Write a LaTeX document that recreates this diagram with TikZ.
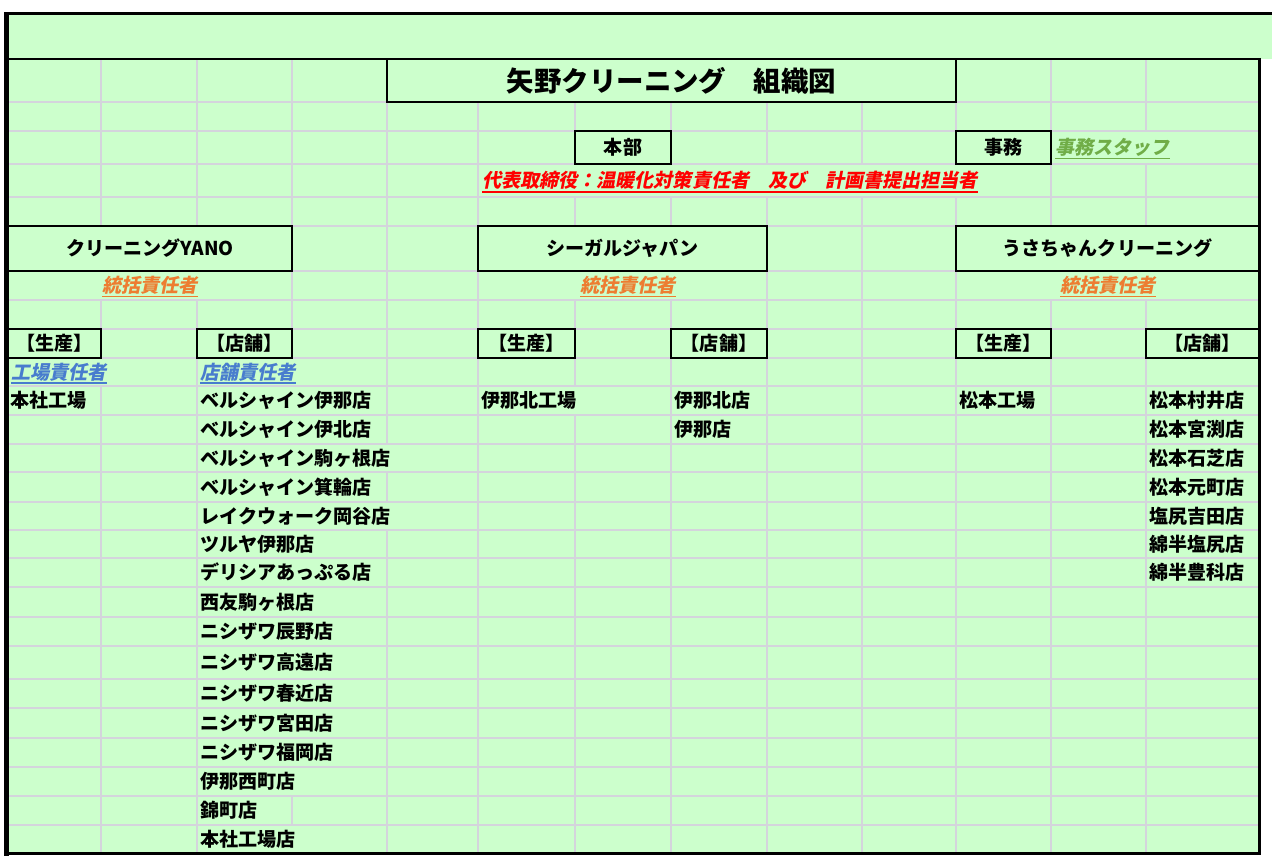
\documentclass[tikz,border=0pt]{standalone}
\usepackage{fontspec}
\setmainfont{Noto Sans CJK JP}
\newfontfamily\slantfont[FakeSlant=0.2]{Noto Sans CJK JP}

\definecolor{cellbg}{RGB}{204,255,204}
\definecolor{gridgray}{RGB}{212,212,220}
\definecolor{chieforange}{RGB}{237,125,49}
\definecolor{leadblue}{RGB}{72,124,206}
\definecolor{staffgreen}{RGB}{112,173,71}

\begin{document}
\begin{tikzpicture}[x=0.75pt, y=-0.75pt,
    gridline/.style={gridgray, line width=0.8pt},
    blankcell/.style={fill=cellbg},
    framebox/.style={draw=black, line width=1.3pt, fill=cellbg},
    celltext/.style={anchor=west, inner xsep=0pt, font=\bfseries\fontsize{14.3}{16}\selectfont},
    boxtext/.style={font=\bfseries\fontsize{14.3}{16}\selectfont},
    notetext/.style={inner xsep=0pt, font=\slantfont\bfseries\fontsize{14.3}{16}\selectfont},
    ulinestyle/.style={line width=1.1pt}]
\useasboundingbox (0,0) rectangle (1272,856);

% Sheet background
\fill[cellbg] (8,13) rectangle (1272,59);
\fill[cellbg] (8,59) rectangle (1259,853);

% Cell grid (vertical lines first, overflowing text hides some of them)
\foreach \x in {101,197,292,387,478,575,671,767,862,956,1051,1146}
    \draw[gridline] (\x,59) -- (\x,853);
\foreach \x/\ya/\yb in {1146/131/164, 575/164/197, 671/164/197, 767/164/197,
    862/164/197, 956/164/197, 101/271/300, 197/271/300, 575/271/300,
    671/271/300, 1051/271/300, 1146/271/300, 101/358/386, 292/358/796,
    292/825/853, 575/386/415, 387/444/472, 387/502/530}
    \fill[blankcell] (\x-1.5,\ya) rectangle (\x+1.5,\yb);
\foreach \y in {102,131,164,197,226,271,300,329,358,386,415,444,472,502,530,
    558,587,617,646,679,708,738,767,796,825}
    \draw[gridline] (8,\y) -- (1259,\y);

% Boxes
\draw[framebox, line width=1.6pt] (387,59) rectangle (956,102);
\draw[framebox] (575,131) rectangle (671,164);
\draw[framebox] (956,131) rectangle (1051,164);
\foreach \xa/\xb in {8/292, 478/767, 956/1259}
    \draw[framebox, line width=1.6pt] (\xa,226) rectangle (\xb,271);
\foreach \xa/\xb in {8/101, 197/292, 478/575, 671/767, 956/1051, 1146/1259}
    \draw[framebox] (\xa,329) rectangle (\xb,358);

% Outer frame
\draw[line width=1.1pt] (8,59) -- (1259,59);
\draw[line width=2.3pt] (4,13.5) -- (1272,13.5);
\draw[line width=3.8pt] (6.5,13) -- (6.5,856);
\draw[line width=2.3pt] (1259.5,58) -- (1259.5,855);
\draw[line width=2.3pt] (8,853.5) -- (1261,853.5);

% Headings
\node[boxtext, font=\bfseries\fontsize{20.6}{24}\selectfont] (title) at (671.5,80.5) {矢野クリーニング　組織図};
\node[boxtext] (hq) at (623,147.5) {本部};
\node[boxtext] (office) at (1003.5,147.5) {事務};
\node[notetext, anchor=west, text=staffgreen] (staff) at (1055,147.5) {事務スタッフ};
\node[notetext, anchor=west, text=red] (rep) at (482,180.5) {代表取締役：温暖化対策責任者　及び　計画書提出担当者};

% Companies
\foreach \n/\x/\cx/\s in {yano/150/150/クリーニングYANO, gull/622.5/628/シーガルジャパン,
    usa/1107.5/1108/うさちゃんクリーニング} {
    \node[boxtext] (\n) at (\x,248.5) {\s};
    \node[notetext, text=chieforange] (\n chief) at (\cx,285.5) {統括責任者};
}
\foreach \n/\x in {yanomake/54.5, gullmake/526.5, usamake/1003.5}
    \node[boxtext] (\n) at (\x,343.5) {【生産】};
\foreach \n/\x in {yanoshop/244.5, gullshop/719, usashop/1202.5}
    \node[boxtext] (\n) at (\x,343.5) {【店舗】};
\node[notetext, anchor=west, text=leadblue] (factorylead) at (11,372) {工場責任者};
\node[notetext, anchor=west, text=leadblue] (shoplead) at (200,372) {店舗責任者};

% Underlines of the italic notes
\foreach \n/\c in {staff/staffgreen, rep/red, yanochief/chieforange, gullchief/chieforange,
    usachief/chieforange, factorylead/leadblue, shoplead/leadblue}
    \draw[ulinestyle, \c] ([yshift=-3pt]\n.base west) -- ([yshift=-3pt]\n.base east);

% Factories and shops
\node[celltext] (yanofactory) at (10,400.5) {本社工場};
\node[celltext] (gullfactory) at (481,400.5) {伊那北工場};
\node[celltext] (usafactory) at (959,400.5) {松本工場};
\node[celltext] (gullshop1) at (674,400.5) {伊那北店};
\node[celltext] (gullshop2) at (674,429.5) {伊那店};
\foreach \y/\s [count=\i] in {400.5/ベルシャイン伊那店, 429.5/ベルシャイン伊北店,
    458/ベルシャイン駒ヶ根店, 487/ベルシャイン箕輪店, 516/レイクウォーク岡谷店,
    544/ツルヤ伊那店, 572.5/デリシアあっぷる店, 602/西友駒ヶ根店, 631.5/ニシザワ辰野店,
    662.5/ニシザワ高遠店, 693.5/ニシザワ春近店, 723/ニシザワ宮田店, 752.5/ニシザワ福岡店,
    781.5/伊那西町店, 810.5/錦町店, 839/本社工場店}
    \node[celltext] (yanoshop\i) at (200,\y) {\s};
\foreach \y/\s [count=\i] in {400.5/松本村井店, 429.5/松本宮渕店, 458/松本石芝店,
    487/松本元町店, 516/塩尻吉田店, 544/綿半塩尻店, 572.5/綿半豊科店}
    \node[celltext] (usashop\i) at (1149,\y) {\s};
\end{tikzpicture}
\end{document}
